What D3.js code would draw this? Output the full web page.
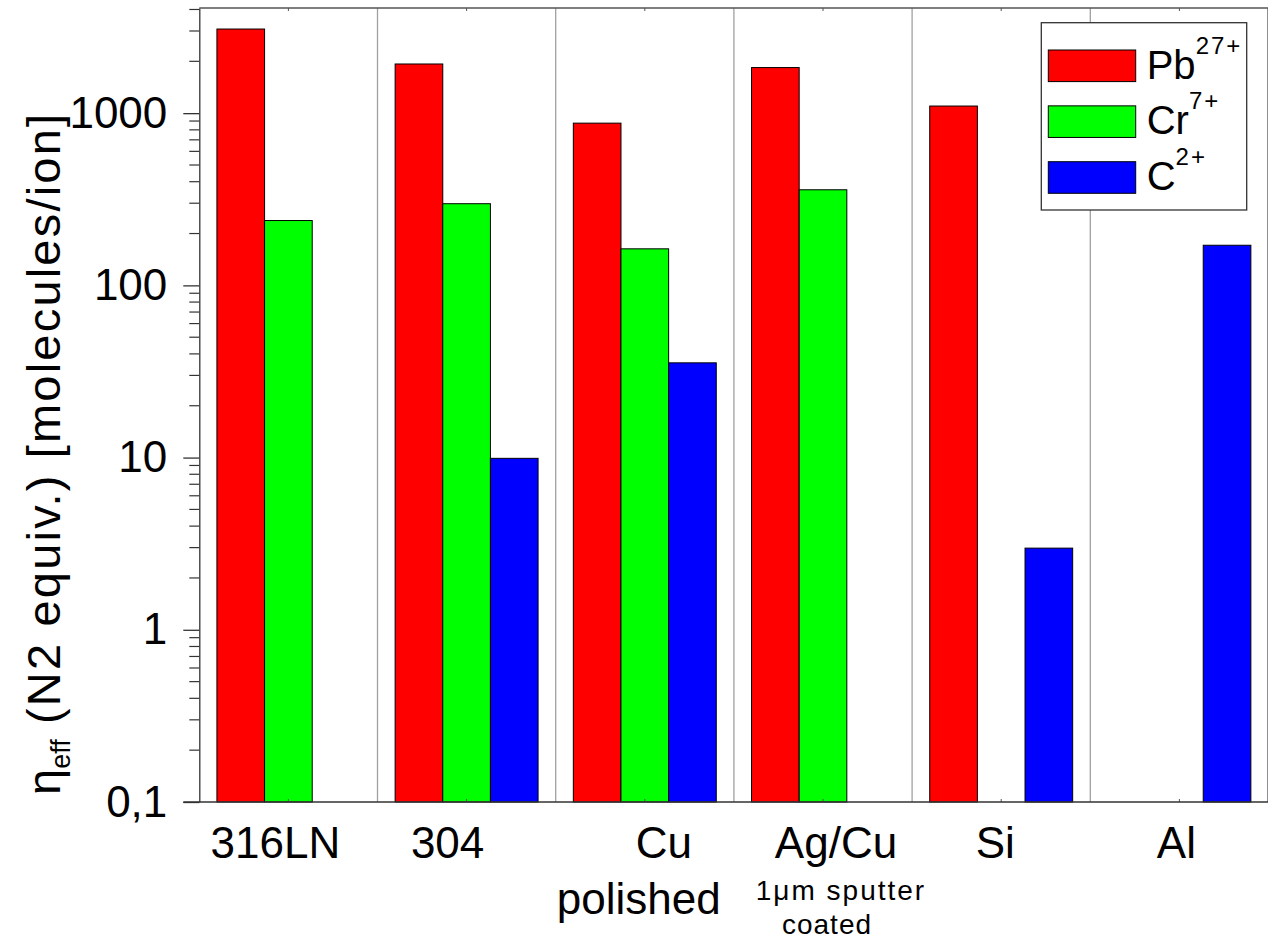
<!DOCTYPE html>
<html>
<head>
<meta charset="utf-8">
<script src="https://cdn.jsdelivr.net/npm/d3@7"></script>
<style>
  html, body { margin: 0; padding: 0; background: #fff; }
  svg { display: block; font-family: "Liberation Sans", Arial, sans-serif; }
</style>
</head>
<body>
<svg id="chart" width="1268" height="943"></svg>
<script>
// ---- data ----
const categories = ["316LN", "304", "Cu", "Ag/Cu", "Si", "Al"];
const seriesNames = ["Pb", "Cr", "C"];
const seriesCharges = ["27+", "7+", "2+"];
const pbValues = [3080, 1930, 875, 1840, 1100, null];
const crValues = [238, 298, 163, 359, null, null];
const cValues  = [null, 9.9, 35.5, null, 2.98, 171];
const yTickValues = [0.1, 1, 10, 100, 1000];
const yTickLabels = ["0,1", "1", "10", "100", "1000"];
const categorySubLines = [[], [], ["polished"], ["1\u03bcm sputter", "coated"], [], []];

// ---- style / layout ----
const colors = ["#ff0000", "#00ff00", "#0000ff"];
const labelDx = [-13, -19, 19, 13, -6, -3];      // hand-placed label nudges
const subLabelDx = [[], [], [-6], [18, 4], [], []];
const L = 199.3, R = 1268.5, T = 8, B = 802;
const svg = d3.select("#chart");

const x0 = d3.scaleBand().domain(categories).range([L, R]).padding(0);
const x1 = d3.scaleBand().domain(seriesNames).range([0, x0.bandwidth()])
  .paddingInner(0).paddingOuter(0.37);
const y = d3.scaleLog().domain([0.1, 4080]).range([B, T]);

const seriesValues = [pbValues, crValues, cValues];

// group separators (gray)
svg.append("g").selectAll("line")
  .data(categories.slice(1))
  .join("line")
  .attr("x1", d => x0(d)).attr("x2", d => x0(d))
  .attr("y1", T).attr("y2", B)
  .attr("stroke", "#a0a0a0").attr("stroke-width", 1.3);

// bars
const bars = [];
seriesValues.forEach((vals, si) => {
  vals.forEach((v, ci) => {
    if (v != null) bars.push({ cat: categories[ci], s: seriesNames[si], si, v });
  });
});
svg.append("g").selectAll("rect")
  .data(bars)
  .join("rect")
  .attr("x", d => x0(d.cat) + x1(d.s))
  .attr("width", x1.bandwidth())
  .attr("y", d => y(d.v))
  .attr("height", d => B - y(d.v))
  .attr("fill", d => colors[d.si])
  .attr("stroke", "#000").attr("stroke-width", 1);

// top / right frame lines
svg.append("line").attr("x1", L).attr("x2", R).attr("y1", T).attr("y2", T)
  .attr("stroke", "#555").attr("stroke-width", 1.3);
svg.append("line").attr("x1", R - 0.5).attr("x2", R - 0.5).attr("y1", T).attr("y2", B)
  .attr("stroke", "#555").attr("stroke-width", 1.3);

// small category ticks on top and bottom frame
categories.forEach(c => {
  const cx = x0(c) + x0.bandwidth() / 2;
  svg.append("line").attr("x1", cx).attr("x2", cx).attr("y1", T).attr("y2", T + 3)
    .attr("stroke", "#555");
  svg.append("line").attr("x1", cx).attr("x2", cx).attr("y1", B).attr("y2", B - 3)
    .attr("stroke", "#555");
});

// y axis: major ticks
const yAxis = d3.axisLeft(y)
  .tickValues(yTickValues)
  .tickFormat((d, i) => yTickLabels[i])
  .tickSizeInner(16).tickSizeOuter(0).tickPadding(16);
const yg = svg.append("g").attr("transform", `translate(${L},0)`).call(yAxis);
yg.select(".domain").attr("stroke", "#333").attr("stroke-width", 1.3);
yg.selectAll(".tick line").attr("stroke", "#333").attr("stroke-width", 1.3);
yg.selectAll(".tick text").attr("font-size", 44).attr("fill", "#000")
  .attr("font-family", "Liberation Sans, Arial, sans-serif");

// minor ticks
const minor = [];
for (let e = -1; e <= 3; e++) {
  for (let m = 2; m <= 9; m++) {
    const v = m * Math.pow(10, e);
    if (v <= 4080) minor.push(v);
  }
}
svg.append("g").selectAll("line")
  .data(minor)
  .join("line")
  .attr("x1", L - 10).attr("x2", L)
  .attr("y1", d => y(d)).attr("y2", d => y(d))
  .attr("stroke", "#333").attr("stroke-width", 1.2);

// bottom axis line
svg.append("line").attr("x1", L - 16).attr("x2", R).attr("y1", B).attr("y2", B)
  .attr("stroke", "#333").attr("stroke-width", 1.3);

// category labels
const catG = svg.append("g").attr("font-size", 44).attr("text-anchor", "middle");
categories.forEach((c, i) => {
  const cx = x0(c) + x0.bandwidth() / 2;
  catG.append("text").attr("x", cx + labelDx[i]).attr("y", 858).text(c);
  const sub = categorySubLines[i];
  if (sub.length === 1) {
    catG.append("text").attr("x", cx + subLabelDx[i][0]).attr("y", 914).text(sub[0]);
  } else if (sub.length === 2) {
    catG.append("text").attr("x", cx + subLabelDx[i][0]).attr("y", 900)
      .attr("font-size", 28).attr("letter-spacing", 2).text(sub[0]);
    catG.append("text").attr("x", cx + subLabelDx[i][1]).attr("y", 934)
      .attr("font-size", 28).attr("letter-spacing", 1).text(sub[1]);
  }
});

// y title
const yt = svg.append("text")
  .attr("transform", "translate(60,795) rotate(-90)")
  .attr("font-size", 47);
yt.append("tspan").text("\u03b7");
yt.append("tspan").attr("font-size", 27).attr("dy", 10).text("eff");
yt.append("tspan").attr("dy", -10).attr("letter-spacing", 2.2)
  .text("\u00a0(N2 equiv.) [molecules/ion]");

// legend
const lg = svg.append("g");
lg.append("rect").attr("x", 1041.3).attr("y", 22.7).attr("width", 205.4).attr("height", 187.3)
  .attr("fill", "#fff").attr("stroke", "#333").attr("stroke-width", 1.3);
const legY = d3.scalePoint().domain(seriesNames).range([50, 161.7]);
seriesNames.forEach((s, i) => {
  lg.append("rect").attr("x", 1048.3).attr("y", legY(s)).attr("width", 87.4).attr("height", 31.6)
    .attr("fill", colors[i]).attr("stroke", "#000").attr("stroke-width", 1);
  const t = lg.append("text").attr("x", 1146.7).attr("y", legY(s) + 28.5).attr("font-size", 40);
  t.append("tspan").text(s);
  t.append("tspan").attr("font-size", 24).attr("dy", -25).attr("letter-spacing", 2).text(seriesCharges[i]);
});
</script>
</body>
</html>
